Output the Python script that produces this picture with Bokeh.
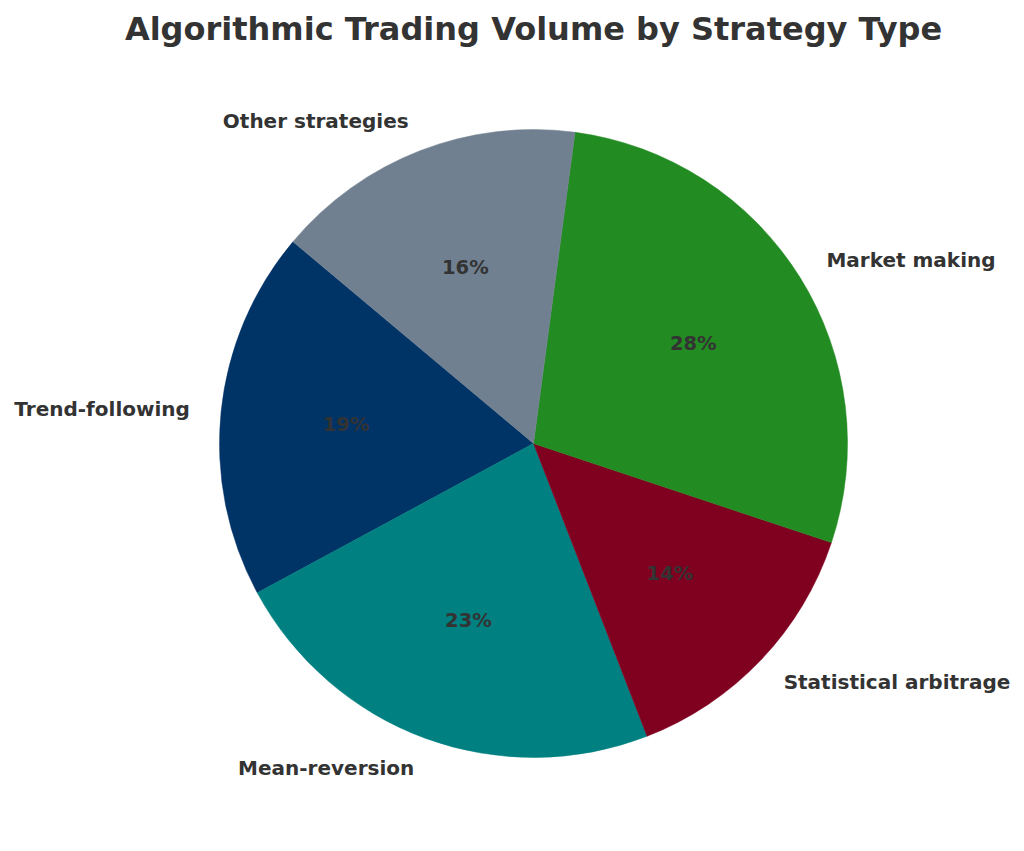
import math

from bokeh.plotting import figure
from bokeh.models import Range1d, ColumnDataSource
from bokeh.core.properties import value
from bokeh.embed import file_html
from bokeh.resources import INLINE

# data
strategies = ["Trend-following", "Mean-reversion", "Statistical arbitrage",
              "Market making", "Other strategies"]
shares = [19, 23, 14, 28, 16]
colors = ["#003366", "#008080", "#800020", "#228B22", "#708090"]

title = "Algorithmic Trading Volume by Strategy Type"
start_deg = 140  # first wedge starts here, going anticlockwise

# layout in page pixels: pie centre and radius, plot origin on the page
cx, cy, R = 533, 443, 314
ox, oy = 0, 0
W, H = 1020, 845

total = sum(shares)
starts, ends, mids = [], [], []
a = math.radians(start_deg)
for s in shares:
    da = 2 * math.pi * s / total
    starts.append(a)
    ends.append(a + da)
    mids.append(a + da / 2)
    a += da

src = ColumnDataSource(dict(
    start=starts, end=ends, color=colors,
    lx=[1.1 * math.cos(m) for m in mids],
    ly=[1.1 * math.sin(m) for m in mids],
    align=["left" if math.cos(m) >= 0 else "right" for m in mids],
    px=[0.6 * math.cos(m) for m in mids],
    py=[0.6 * math.sin(m) for m in mids],
    label=strategies,
    pct=[f"{s / total * 100:.0f}%" for s in shares],
))

p = figure(
    width=W, height=H,
    x_range=Range1d((ox - cx) / R, (ox + W - cx) / R),
    y_range=Range1d((cy - oy - H) / R, (cy - oy) / R),
    toolbar_location=None, output_backend="svg",
    min_border=0,
)
p.axis.visible = False
p.grid.visible = False
p.outline_line_color = None
p.background_fill_color = "white"

p.wedge(x=0, y=0, radius=1, start_angle="start", end_angle="end",
        direction="anticlock", fill_color="color", line_color="color",
        line_width=0.5, source=src)

p.text(x="lx", y="ly", text="label", source=src,
       text_align="align", text_baseline="middle",
       text_font=value("DejaVu Sans"), text_font_style="bold",
       text_font_size="20px", text_color="#333333")

p.text(x="px", y="py", text="pct", source=src,
       text_align="center", text_baseline="middle",
       text_font=value("DejaVu Sans"), text_font_style="bold",
       text_font_size="19.5px", text_color="#333333")

p.text(x=[0], y=[(cy - 28) / R], text=[title],
       text_align="center", text_baseline="middle",
       text_font=value("DejaVu Sans"), text_font_style="bold",
       text_font_size="32px", text_color="#333333")

open("out.html", "w").write(file_html(p, INLINE))
